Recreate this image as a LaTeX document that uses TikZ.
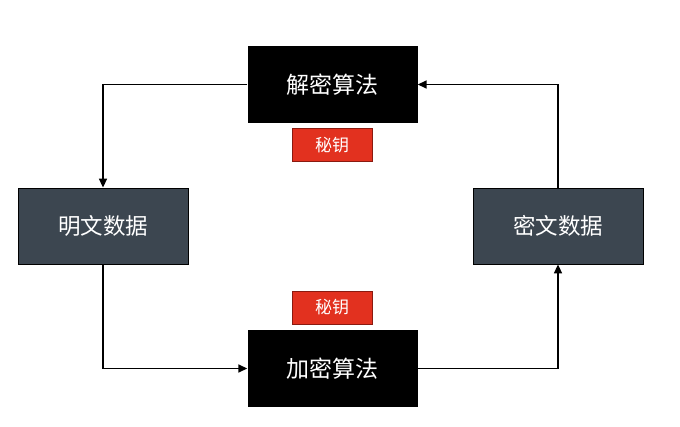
\documentclass[tikz,border=0pt]{standalone}
\usepackage{fontspec}
\usepackage{xcolor}
\usetikzlibrary{positioning, arrows.meta}
\newfontfamily\cjk{Noto Sans CJK SC}
\definecolor{slate}{HTML}{3C4650}
\definecolor{keyred}{HTML}{E2311F}
\definecolor{keyedge}{HTML}{8A1A10}

\begin{document}
\begin{tikzpicture}[x=1pt, y=-1pt,
  algo/.style={fill=black, text=white, minimum width=170pt, minimum height=77pt, inner sep=0pt, font=\cjk\fontsize{23}{27}\selectfont},
  data/.style={fill=slate, draw=black, line width=0.8pt, text=white, minimum width=170pt, minimum height=76pt, inner sep=0pt, font=\cjk\fontsize{22.5}{27}\selectfont},
  key/.style={fill=keyred, draw=keyedge, line width=0.6pt, text=white, minimum width=80pt, minimum height=33pt, inner sep=0pt, font=\cjk\fontsize{17}{20}\selectfont},
  link/.style={line width=1.6pt, -{Triangle[length=9pt, width=8pt]}}]
  \useasboundingbox (0,0) rectangle (680,427);
  % algorithms
  \node[algo] (dec) at (332.5,84.5) {解密算法};
  \node[algo] (enc) at (332.5,368.5) {加密算法};
  % keys
  \node[key] (deckey) at (332,145) {秘钥};
  \node[key] (enckey) at (332,307.5) {秘钥};
  % data
  \node[data] (plain) at (103,226) {明文数据};
  \node[data] (cipher) at (558,226) {密文数据};
  % connectors
  \draw[link] (dec.west) -| (plain.north);
  \draw[link] (plain.south) |- (enc.west);
  \draw[link] (enc.east) -| (cipher.south);
  \draw[link] (cipher.north) |- (dec.east);
\end{tikzpicture}
\end{document}
